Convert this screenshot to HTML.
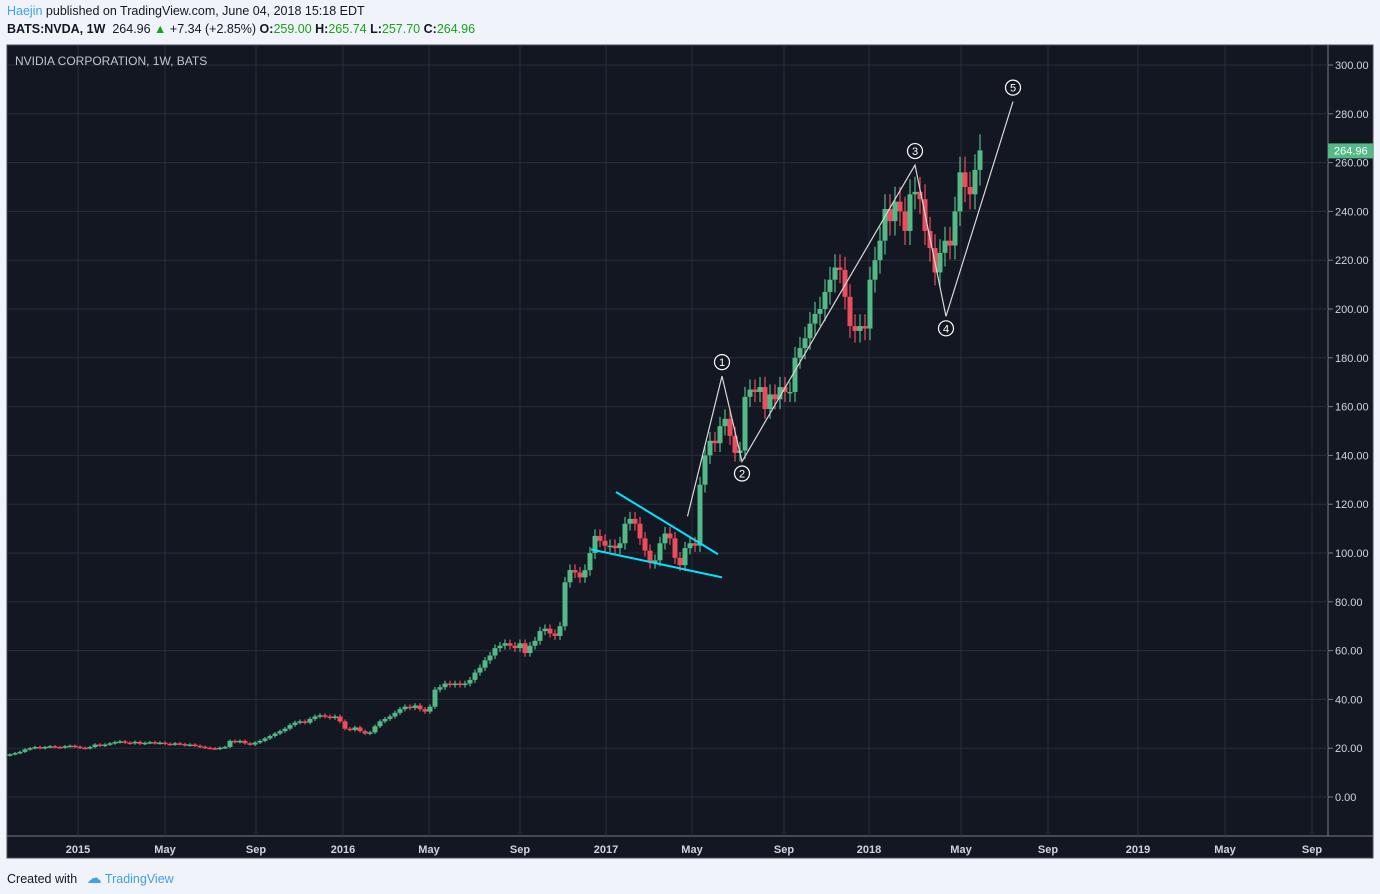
<!DOCTYPE html>
<html><head><meta charset="utf-8">
<style>
body{margin:0;width:1380px;height:894px;background:#f0f3fa;font-family:"Liberation Sans",sans-serif;position:relative;overflow:hidden}
.hdr{position:absolute;left:7px;font-size:12.5px;color:#131722;white-space:nowrap}
svg{position:absolute;left:0;top:0}
</style></head><body>
<div class="hdr" style="top:4px"><span style="color:#3ea1e4">Haejin</span> published on TradingView.com, June 04, 2018 15:18 EDT</div>
<div class="hdr" style="top:22px"><b>BATS:NVDA, 1W</b>&nbsp; 264.96 <span style="color:#1aa31a">▲</span> +7.34 (+2.85%) <b>O:</b><span style="color:#1aa31a">259.00</span> <b>H:</b><span style="color:#1aa31a">265.74</span> <b>L:</b><span style="color:#1aa31a">257.70</span> <b>C:</b><span style="color:#1aa31a">264.96</span></div>
<svg id="chart" width="1380" height="894"></svg>
<div class="hdr" style="top:869px;font-size:12.5px">Created with <span style="color:#3ea1e4;margin-left:6px"><span style="font-size:15px">☁</span> TradingView</span></div>
<script>
const closes=[17.5,18,18.5,19.5,20,20.5,20,20.5,20.8,20.5,
20.3,20.8,21,20.6,20.2,20,20.5,21.5,21,21.5,
22,22.5,22.8,22.3,22,22.6,21.8,22.2,22.5,22,
22.3,21.8,21.5,22,21.7,21.2,21.5,21,20.6,20.2,
20,19.8,20.2,20.5,23,22.5,23,22,21.5,22.3,
23,24,25,26,27,28,29.5,30.5,31,30.5,
32,33,33.5,33,32.5,33,31,28,27.5,28.5,
27,26,26.5,29,31,32,33,34.5,36,37,
36.5,37.5,36,35,37,44,45,46.5,46,46.5,
46,46.5,48,51,53,56,58,61,62,63,
62,61,63,59,62,64,68,69,67,66,
70,88,93,92,90,93,100,107,105,103,
103,102,104,112,114,112,106,101,96,97,
104,108,106,98,95,102,104,103,128,140,
146,145,152,155,148,141,142,164,167,166,
168,159,165,163,168,166,166,180,184,188,
194,198,200,207,212,217,216,205,193,191,
193,192,212,220,228,241,236,244,240,232,
247,248,245,232,225,215,223,228,226,240,
256,250,247,257,265];
const priceTicks=[0,20,40,60,80,100,120,140,160,180,200,220,240,260,280,300];
const timeLabels=["2015","May","Sep","2016","May","Sep","2017","May","Sep","2018","May","Sep","2019","May","Sep"];
const timeWeeks=[13.6,31,49.2,66.6,83.8,102,119.2,136.4,154.8,171.8,190.2,207.6,225.6,243,260.4];
const waveWeeks=[135.5,142.4,146.4,181,187.2,200.6];
const wavePrices=[115,172.5,137.5,259,197,285];
const waveLabels=["","1","2","3","4","5"];
const upperTL=[[121.2,125],[141.6,99.5]];
const lowerTL=[[116.2,101.5],[142.4,90]];
const NS="http://www.w3.org/2000/svg";
const svg=document.getElementById('chart');
const X=w=>10+w*5.0, Y=v=>797-v*2.44;
function el(t,a,p){const e=document.createElementNS(NS,t);for(const k in a)e.setAttribute(k,a[k]);(p||svg).appendChild(e);return e;}
const bg=el('rect',{x:7,y:45,width:1366,height:813,fill:'#131722',stroke:'#4a4e5a'});


el('line',{x1:1328,y1:45,x2:1328,y2:836,stroke:'#787b86'});
el('line',{x1:7,y1:836,x2:1373,y2:836,stroke:'#787b86'});
priceTicks.forEach(v=>{
 el('line',{x1:7,y1:Y(v),x2:1328,y2:Y(v),stroke:'#2a2e39'});
 el('line',{x1:1328,y1:Y(v),x2:1333,y2:Y(v),stroke:'#787b86'});
 const t=el('text',{x:1335,y:Y(v)+4,fill:'#d1d4dc','font-size':11,'font-family':'Liberation Sans'});t.textContent=v.toFixed(2);
 
 
});
timeWeeks.forEach((w,i)=>{
 el('line',{x1:X(w),y1:45,x2:X(w),y2:836,stroke:'#2a2e39'});
 const t=el('text',{x:X(w),y:853,fill:'#d1d4dc','font-size':11,'font-weight':'bold','text-anchor':'middle','font-family':'Liberation Sans'});t.textContent=timeLabels[i];
 
 
});
const title=el('text',{x:15,y:65,fill:'#c3c6ce','font-size':12,'font-family':'Liberation Sans'});title.textContent='NVIDIA CORPORATION, 1W, BATS';


closes.forEach((c,i)=>{
 const o=i?closes[i-1]:c-0.5, up=c>=o, col=up?'#53b987':'#eb4d5c';
 const hi=Math.max(o,c)*1.025, lo=Math.min(o,c)*0.975, x=X(i);
 const g=el('g',{});
 
 
 el('line',{x1:x,y1:Y(hi),x2:x,y2:Y(lo),stroke:col,'stroke-width':1.2},g);
 el('rect',{x:x-2.5,y:Y(Math.max(o,c)),width:5,height:Math.max(1.5,Math.abs(Y(o)-Y(c))),fill:col},g);
});
[upperTL,lowerTL].forEach(l=>{
 const ln=el('line',{x1:X(l[0][0]),y1:Y(l[0][1]),x2:X(l[1][0]),y2:Y(l[1][1]),stroke:'#00e5ff','stroke-width':2});
 
 
});
const pts=waveWeeks.map((w,i)=>X(w)+','+Y(wavePrices[i])).join(' ');
const wl=el('polyline',{points:pts,fill:'none',stroke:'#d8d8d8','stroke-width':1.2});


waveLabels.forEach((s,i)=>{
 if(!s)return;
 const x=X(waveWeeks[i]), y=Y(wavePrices[i])+(i%2?-14:12);
 const g=el('g',{});
 
 
 el('circle',{cx:x,cy:y,r:7.5,fill:'#131722',stroke:'#fff','stroke-width':1.2},g);
 const t=el('text',{x:x,y:y+4,fill:'#fff','font-size':11,'text-anchor':'middle','font-family':'Liberation Sans'},g);t.textContent=s;
});
const last=closes[closes.length-1];
const pl=el('rect',{x:1328,y:Y(last)-7,width:45,height:15,fill:'#53b987'});


const pt=el('text',{x:1334,y:Y(last)+4,fill:'#fff','font-size':11,'font-family':'Liberation Sans'});pt.textContent="264.96";


</script>
</body></html>
